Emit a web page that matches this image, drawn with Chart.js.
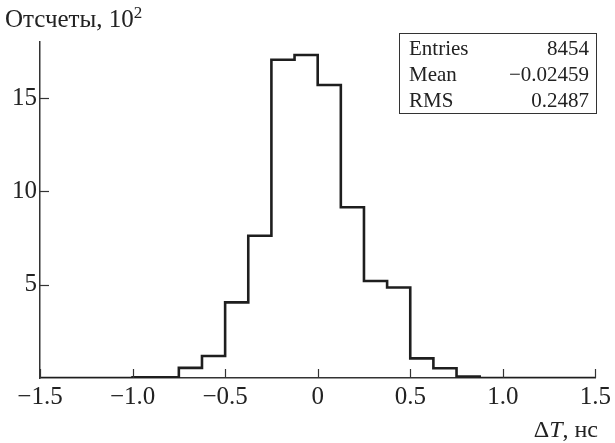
<!DOCTYPE html>
<html>
<head>
<meta charset="utf-8">
<script src="https://cdn.jsdelivr.net/npm/chart.js@4.4.1/dist/chart.umd.min.js"></script>
<style>
  html, body { margin: 0; padding: 0; background: #fff; }
  #wrap { position: relative; width: 615px; height: 443px; font-family: "Liberation Serif", "DejaVu Serif", serif; color: #222; }
  canvas { position: absolute; left: 0; top: 0; }
  .t { position: absolute; white-space: nowrap; font-size: 25px; line-height: 1; }
  #stats { position: absolute; left: 399px; top: 33px; width: 198px; height: 81px; border: 1.5px solid #333; font-size: 21px; padding: 0 7px 0 9px; box-sizing: border-box; }
  #stats .row { display: flex; justify-content: space-between; height: 26px; line-height: 26px; }
  #stats .row:first-child { margin-top: 1px; }
</style>
</head>
<body>
<div id="wrap">
  <canvas id="c" width="615" height="443"></canvas>
  <div class="t" id="ytitle" style="left:5px; top:6px;">Отсчеты, 10<sup style="font-size:17px; vertical-align:9px; line-height:0;">2</sup></div>
  <div class="t" id="xtitle" style="right:17px; top:417px; font-size:24px;">Δ<i>T</i>, нс</div>
  <div id="stats"></div>
</div>
<script>
// Histogram bin edges (ns) and counts (x10^2)
const binEdges = [-1.5,-1.375,-1.25,-1.125,-1.0,-0.875,-0.75,-0.625,-0.5,-0.375,-0.25,-0.125,0,0.125,0.25,0.375,0.5,0.625,0.75,0.875,1.0,1.125,1.25,1.375,1.5];
const counts   = [0,0,0,0,0.04,0.04,0.54,1.18,4.05,7.62,17.05,17.3,15.7,9.15,5.2,4.85,1.05,0.52,0.08,0,0,0,0,0];
const xTicks = [-1.5,-1.0,-0.5,0,0.5,1.0,1.5];
const yTicks = [5,10,15];
const statNames = ["Entries","Mean","RMS"];
const statValues = ["8454","\u22120.02459","0.2487"];

const stats = document.getElementById('stats');
statNames.forEach((n,i)=>{
  const r = document.createElement('div'); r.className='row';
  r.innerHTML = '<span>'+n+'</span><span>'+statValues[i]+'</span>';
  stats.appendChild(r);
});

const pts = counts.map((v,i)=>({x: binEdges[i], y: v}));
pts.push({x: binEdges[binEdges.length-1], y: counts[counts.length-1]});

const fmt = v => { if (v === 0) return '0'; const s = Math.abs(v).toFixed(1); return (v<0?'\u2212':'') + s; };

const inwardTicks = {
  id: 'inwardTicks',
  afterDraw(chart){
    const {ctx, scales:{x, y}, chartArea:a} = chart;
    ctx.save();
    ctx.strokeStyle = '#333'; ctx.lineWidth = 1.2;
    x.ticks.forEach(t=>{ const px = Math.round(x.getPixelForValue(t.value))+0.5; ctx.beginPath(); ctx.moveTo(px, a.bottom); ctx.lineTo(px, a.bottom-9); ctx.stroke(); });
    y.ticks.forEach(t=>{ const py = Math.round(y.getPixelForValue(t.value))+0.5; ctx.beginPath(); ctx.moveTo(a.left, py); ctx.lineTo(a.left+9, py); ctx.stroke(); });
    ctx.restore();
  }
};

new Chart(document.getElementById('c'), {
  type: 'line',
  data: { datasets: [{ data: pts, stepped: 'before', borderColor: '#1e1e1e', borderWidth: 2.6, pointRadius: 0, fill: false, tension: 0 }] },
  options: {
    responsive: false, animation: false, devicePixelRatio: 1,
    layout: { padding: { top: 42, right: 17, left: 0, bottom: 0 } },
    plugins: { legend: { display: false }, tooltip: { enabled: false } },
    scales: {
      x: {
        type: 'linear', min: -1.5, max: 1.5,
        afterBuildTicks: s => { s.ticks = xTicks.map(v=>({value:v})); },
        afterFit: s => { s.height = 65; },
        grid: { display: false, drawTicks: false },
        border: { display: true, color: '#333', width: 1.5 },
        ticks: { callback: v => fmt(v), color: '#222', font: { family: 'Liberation Serif', size: 25 }, padding: 4, maxRotation: 0, autoSkip: false }
      },
      y: {
        type: 'linear', min: 0, max: 18,
        afterBuildTicks: s => { s.ticks = yTicks.map(v=>({value:v})); },
        afterFit: s => { s.width = 40; },
        grid: { display: false, drawTicks: false },
        border: { display: true, color: '#333', width: 1.5 },
        ticks: { color: '#222', font: { family: 'Liberation Serif', size: 25 }, padding: 3 }
      }
    }
  },
  plugins: [inwardTicks]
});
</script>
</body>
</html>
